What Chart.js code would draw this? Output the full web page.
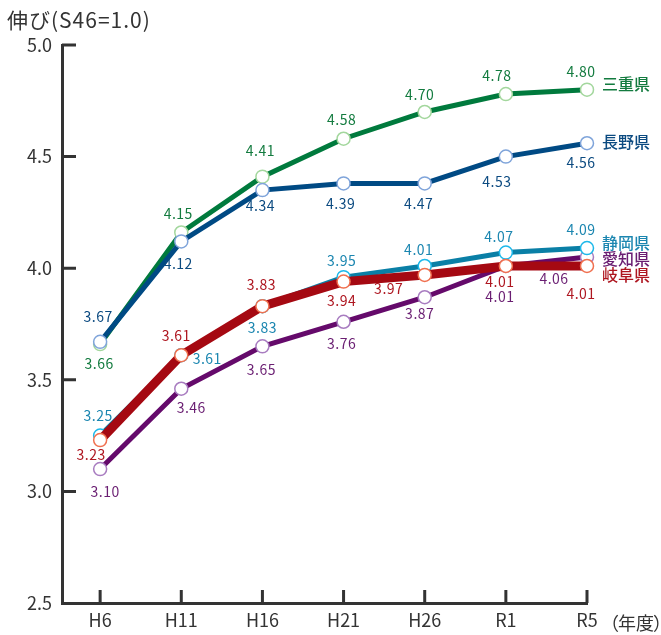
<!DOCTYPE html>
<html lang="ja">
<head>
<meta charset="utf-8">
<title>伸び(S46=1.0)</title>
<script src="https://cdn.jsdelivr.net/npm/chart.js@4.4.1/dist/chart.umd.min.js"></script>
<style>
    html, body { margin: 0; padding: 0; background: #fff; }
    #wrap { width: 661px; height: 635px; position: relative; }
</style>
</head>
<body>
<div id="wrap"><canvas id="growthChart"></canvas></div>
<script>
const years = ['H6', 'H11', 'H16', 'H21', 'H26', 'R1', 'R5'];
const yMin = 2.5;
const yMax = 5.0;
const yStep = 0.5;

// plotted values
const mie = [3.66, 4.16, 4.41, 4.58, 4.70, 4.78, 4.80];
const nagano = [3.67, 4.12, 4.35, 4.38, 4.38, 4.50, 4.56];
const shizuoka = [3.25, 3.61, 3.83, 3.96, 4.01, 4.07, 4.09];
const aichi = [3.10, 3.46, 3.65, 3.76, 3.87, 4.01, 4.05];
const gifu = [3.23, 3.61, 3.83, 3.94, 3.97, 4.01, 4.01];

// printed labels (the source prints some values that differ from the marks)
const mieLabels = ['3.66', '4.15', '4.41', '4.58', '4.70', '4.78', '4.80'];
const naganoLabels = ['3.67', '4.12', '4.34', '4.39', '4.47', '4.53', '4.56'];
const shizuokaLabels = ['3.25', '3.61', '3.83', '3.95', '4.01', '4.07', '4.09'];
const aichiLabels = ['3.10', '3.46', '3.65', '3.76', '3.87', '4.01', '4.06'];
const gifuLabels = ['3.23', '3.61', '3.83', '3.94', '3.97', '4.01', '4.01'];

const FONT = '"Noto Sans CJK JP", "Noto Sans", sans-serif';
Chart.defaults.font.family = FONT;

function series(name, data, labels, opts) {
    return {
        label: name,
        data: data.map((v, i) => ({ x: i, y: v })),
        valueLabels: labels,
        borderColor: opts.line,
        borderWidth: opts.width,
        pointBorderColor: opts.ring,
        pointBackgroundColor: '#fff',
        pointBorderWidth: 1.5,
        pointRadius: 6.5,
        pointHoverRadius: 6.5,
        tension: 0,
        clip: false,
        order: opts.order,
        labelColor: opts.text,
        labelOffsets: opts.offsets,
        nameOffset: opts.nameOffset,
    };
}

const datasets = [
    series('三重県', mie, mieLabels, {
        line: '#007A3D', ring: '#A3D79D', text: '#137B3F', width: 5, order: 5, nameOffset: -6,
        offsets: [[-1, 20], [-3, -19], [-2, -26], [-2, -19], [-5, -17], [-9, -18], [-6, -18]],
    }),
    series('長野県', nagano, naganoLabels, {
        line: '#004A84', ring: '#7FA4DA', text: '#0B4A80', width: 5, order: 4, nameOffset: -1,
        offsets: [[-2, -25], [-3, 22], [-2, 16], [-3, 20], [-6, 20], [-9, 25], [-6, 19]],
    }),
    series('愛知県', aichi, aichiLabels, {
        line: '#650A6B', ring: '#A87CC0', text: '#6A1E72', width: 5, order: 3, nameOffset: 2,
        offsets: [[5, 23], [10, 19], [-1, 23], [-2, 22], [-5, 16], [-6, 31], [-33, 22]],
    }),
    series('静岡県', shizuoka, shizuokaLabels, {
        line: '#0A7FA6', ring: '#1CB8EA', text: '#1B86B0', width: 5, order: 2, nameOffset: -5,
        offsets: [[-2, -20], [26, 3], [0, 22], [-2, -16], [-6, -16], [-7, -16], [-6, -18]],
    }),
    series('岐阜県', gifu, gifuLabels, {
        line: '#A50912', ring: '#F0704F', text: '#AE1620', width: 9, order: 1, nameOffset: 9,
        offsets: [[-9, 15], [-5, -20], [-1, -21], [-2, 19], [-36, 14], [-6, 16], [-6, 28]],
    }),
];

// inward tick marks, value labels, series names and the captions
const decorations = {
    id: 'decorations',
    afterDatasetsDraw(chart) {
        const { ctx, chartArea, scales } = chart;
        ctx.save();

        ctx.strokeStyle = '#333';
        ctx.lineWidth = 3;
        ctx.beginPath();
        scales.y.ticks.forEach((t) => {
            if (t.value <= yMin) return;
            const py = scales.y.getPixelForValue(t.value);
            ctx.moveTo(chartArea.left, py);
            ctx.lineTo(chartArea.left + 14, py);
        });
        years.forEach((_, i) => {
            const px = scales.x.getPixelForValue(i);
            ctx.moveTo(px, chartArea.bottom);
            ctx.lineTo(px, chartArea.bottom - 13);
        });
        ctx.stroke();

        ctx.textAlign = 'center';
        ctx.textBaseline = 'middle';
        ctx.font = '14px ' + FONT;
        ctx.letterSpacing = '0.5px';
        chart.data.datasets.forEach((ds, di) => {
            const meta = chart.getDatasetMeta(di);
            ctx.fillStyle = ds.labelColor;
            meta.data.forEach((pt, i) => {
                const [dx, dy] = ds.labelOffsets[i];
                ctx.fillText(ds.valueLabels[i], pt.x + dx, pt.y + dy);
            });
        });
        ctx.letterSpacing = '0px';

        ctx.textAlign = 'left';
        ctx.font = '500 16px ' + FONT;
        chart.data.datasets.forEach((ds, di) => {
            const meta = chart.getDatasetMeta(di);
            const last = meta.data[meta.data.length - 1];
            ctx.fillStyle = ds.labelColor;
            ctx.fillText(ds.label, chartArea.right + 15, last.y + ds.nameOffset);
        });

        ctx.fillStyle = '#333';
        ctx.font = '21px ' + FONT;
        ctx.letterSpacing = '1px';
        ctx.fillText('伸び(S46=1.0)', 7, 20);
        ctx.letterSpacing = '0px';

        // （年度） with the full-width brackets tucked in
        const capY = 623;
        ctx.font = '18px ' + FONT;
        ctx.fillText('（', 601, capY);
        ctx.fillText('年度', 618, capY);
        ctx.fillText('）', 653, capY);

        ctx.restore();
    },
};

new Chart(document.getElementById('growthChart'), {
    type: 'line',
    data: { datasets },
    plugins: [decorations],
    options: {
        responsive: true,
        maintainAspectRatio: false,
        animation: false,
        layout: { padding: { top: 45, right: 74, left: 0, bottom: 0 } },
        plugins: {
            legend: { display: false },
            tooltip: { enabled: false },
        },
        scales: {
            x: {
                type: 'linear',
                min: -0.47,
                max: years.length - 1,
                afterFit: (scale) => { scale.height = 32; },
                afterBuildTicks: (scale) => {
                    scale.ticks = years.map((_, i) => ({ value: i }));
                },
                ticks: {
                    callback: (v) => years[v],
                    color: '#333',
                    font: { size: 18 },
                    padding: 6,
                    maxRotation: 0,
                    autoSkip: false,
                },
                grid: { drawOnChartArea: false, drawTicks: false },
                border: { display: true, color: '#333', width: 3 },
            },
            y: {
                min: yMin,
                max: yMax,
                afterFit: (scale) => { scale.width = 62; },
                ticks: {
                    stepSize: yStep,
                    callback: (v) => Number(v).toFixed(1),
                    color: '#333',
                    font: { size: 18 },
                    padding: 10,
                },
                grid: { drawOnChartArea: false, drawTicks: false },
                border: { display: true, color: '#333', width: 3 },
            },
        },
    },
});
</script>
</body>
</html>
